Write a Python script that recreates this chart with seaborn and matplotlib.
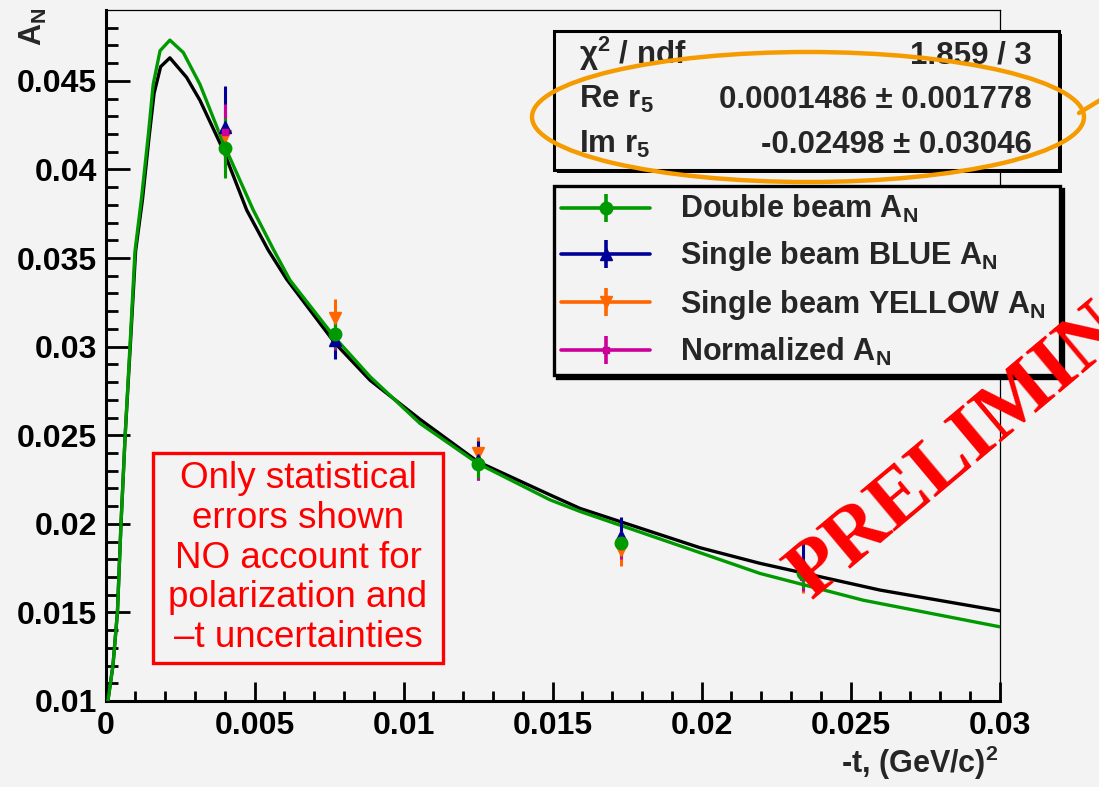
import matplotlib
matplotlib.use("Agg")
import matplotlib.pyplot as plt
import seaborn as sns
from matplotlib.lines import Line2D
from matplotlib.patches import Rectangle, Ellipse
from matplotlib.legend_handler import HandlerTuple

# ---------------- data ----------------
# fitted A_N curve (double beam fit)
fit_t = [0.00008, 0.00025, 0.00040, 0.00052, 0.00066, 0.00082, 0.00099, 0.00121,
         0.00144, 0.00160, 0.00183, 0.00216, 0.00261, 0.00317, 0.00395, 0.00496,
         0.00563, 0.00619, 0.0077, 0.00888, 0.01055, 0.0125, 0.01492, 0.01592,
         0.01995, 0.02196, 0.02542, 0.0300]
fit_an = [0.0100, 0.0120, 0.0150, 0.0200, 0.0250, 0.0300, 0.0354, 0.0384,
          0.0420, 0.0448, 0.0467, 0.0473, 0.0466, 0.0448, 0.0415, 0.0377,
          0.0355, 0.03375, 0.0305, 0.0283, 0.02567, 0.0234, 0.02135, 0.0207,
          0.01837, 0.0172, 0.01569, 0.01419]

# reference curve with r5 = 0
ref_t = [0.00008, 0.00025, 0.00040, 0.00052, 0.00066, 0.00083, 0.00101, 0.00124,
         0.00146, 0.00163, 0.00185, 0.00216, 0.00272, 0.00317, 0.00395, 0.00474,
         0.00546, 0.00608, 0.0077, 0.00888, 0.01055, 0.0125, 0.01492, 0.01592,
         0.01995, 0.02196, 0.02599, 0.0300]
ref_an = [0.0100, 0.0120, 0.0150, 0.0200, 0.0250, 0.0300, 0.0354, 0.0383,
          0.0418, 0.0443, 0.0458, 0.0463, 0.0452, 0.0439, 0.0411, 0.0377,
          0.03545, 0.0338, 0.0302, 0.0281, 0.0259, 0.0235, 0.02163, 0.02087,
          0.01865, 0.01777, 0.01626, 0.01509]

t_bins = [0.0040, 0.0077, 0.0125, 0.0173, 0.0234]

an_double = [0.0412, 0.0307, 0.0234, 0.0189, 0.0172]
err_double = [0.0017, 0.0008, 0.0008, 0.0007, 0.0008]

an_blue = [0.0424, 0.0304, 0.0236, 0.0193, 0.0177]
err_blue = [0.0023, 0.0011, 0.0011, 0.0011, 0.0012]

an_yellow = [0.0419, 0.0316, 0.0240, 0.0185, 0.0172]
err_yellow = [0.0023, 0.0011, 0.0009, 0.0009, 0.0011]

an_norm = [0.0421, 0.0306, 0.0233, 0.0188, 0.0170]
err_norm = [0.0016, 0.0008, 0.0008, 0.0008, 0.0008]

series_labels = ["Double beam A$_{N}$", "Single beam BLUE A$_{N}$",
                 "Single beam YELLOW A$_{N}$", "Normalized A$_{N}$"]

xtick_vals = [0.0, 0.005, 0.01, 0.015, 0.02, 0.025, 0.03]
xtick_labels = ["0", "0.005", "0.01", "0.015", "0.02", "0.025", "0.03"]
ytick_vals = [0.01, 0.015, 0.02, 0.025, 0.03, 0.035, 0.04, 0.045]
ytick_labels = ["0.01", "0.015", "0.02", "0.025", "0.03", "0.035", "0.04", "0.045"]

stat_names = ["\u03c7$^{2}$ / ndf", "Re r$_{5}$", "Im r$_{5}$"]
stat_values = ["1.859 / 3", "0.0001486 \u00b1 0.001778", "-0.02498 \u00b1 0.03046"]

note_text = "Only statistical\nerrors shown\nNO account for\npolarization and\n\u2013t uncertainties"
stamp_text = "PRELIMINARY"

# ---------------- style ----------------
BG = "#f3f3f3"
GREEN = "#009a00"
BLUE = "#000099"
ORANGE = "#ff6600"
MAGENTA = "#cc0099"

sns.set_theme(style="ticks")
plt.rcParams["font.family"] = ["Liberation Sans", "DejaVu Sans"]
plt.rcParams["font.weight"] = "bold"
plt.rcParams["mathtext.fontset"] = "custom"
plt.rcParams["mathtext.rm"] = "Liberation Sans:bold"
plt.rcParams["mathtext.bf"] = "Liberation Sans:bold"
plt.rcParams["mathtext.it"] = "Liberation Sans:bold"
plt.rcParams["mathtext.default"] = "bf"

W, H = 1099, 787
fig = plt.figure(figsize=(W / 100, H / 100), dpi=100, facecolor=BG)


def fx(px):
    return px / W


def fy(py):
    return 1 - py / H


ax = fig.add_axes([fx(105.5), fy(701), fx(999.6) - fx(105.5), fy(10) - fy(701)])
ax.set_facecolor(BG)

# curves
sns.lineplot(x=ref_t, y=ref_an, ax=ax, color="black", lw=2.4, sort=False,
             estimator=None, legend=False, zorder=3)
sns.lineplot(x=fit_t, y=fit_an, ax=ax, color=GREEN, lw=2.4, sort=False,
             estimator=None, legend=False, zorder=4)

# measurements
series = [
    (an_yellow, err_yellow, ORANGE, "v", 8),
    (an_blue, err_blue, BLUE, "^", 8),
    (an_norm, err_norm, MAGENTA, "s", 5),
    (an_double, err_double, GREEN, "o", 9),
]
for vals, errs, col, mk, ms in series:
    ax.errorbar(t_bins, vals, yerr=errs, fmt=mk, color=col, ms=ms,
                elinewidth=2.2, capsize=0, zorder=5)

ax.set_xlim(0, 0.03)
ax.set_ylim(0.01, 0.049)
ax.set_xticks(xtick_vals, labels=xtick_labels)
ax.set_yticks(ytick_vals, labels=ytick_labels)
ax.set_xticks([i * 0.001 for i in range(31)], minor=True)
ax.set_yticks([0.01 + i * 0.001 for i in range(39)], minor=True)
ax.tick_params(axis="both", which="both", direction="in", width=2.0,
               colors="black", labelsize=23, top=False, right=False)
ax.tick_params(axis="y", which="major", length=17, pad=6)
ax.tick_params(axis="y", which="minor", length=8.5)
ax.tick_params(axis="x", which="major", length=14, pad=7)
ax.tick_params(axis="x", which="minor", length=7)
for lab in ax.get_xticklabels() + ax.get_yticklabels():
    lab.set_fontweight("bold")

for side in ("left", "bottom"):
    ax.spines[side].set_linewidth(2.2)
    ax.spines[side].set_color("black")
for side in ("top", "right"):
    ax.spines[side].set_linewidth(0.9)
    ax.spines[side].set_color("black")
ax.set_xlabel("")
ax.set_ylabel("")

# axis titles
fig.text(fx(998), fy(773), "-t, (GeV/c)$^{2}$", ha="right", va="baseline",
         fontsize=22, fontweight="bold")
fig.text(fx(33), fy(8), "A$_{N}$", rotation=90, ha="center", va="top",
         fontsize=22, fontweight="bold")

# legend
handles = []
for _, _, col, mk, ms in [series[3], series[1], series[0], series[2]]:
    line = Line2D([], [], color=col, lw=2.6, marker=mk, ms=ms)
    bar = Line2D([], [], color=col, ls="none", marker="|", ms=20, mew=2.6)
    handles.append((line, bar))
leg = ax.legend(handles, series_labels, handler_map={tuple: HandlerTuple(ndivide=1)},
                loc="upper left", mode="expand",
                bbox_to_anchor=(fx(554), fy(377), fx(1060) - fx(554), fy(186) - fy(377)),
                bbox_transform=fig.transFigure, borderaxespad=0, fontsize=22,
                borderpad=0.24, labelspacing=0.46, handlelength=2.9,
                handletextpad=1.0, fancybox=False,
                shadow={"color": "black", "alpha": 1.0})
leg.get_frame().set_edgecolor("black")
leg.get_frame().set_linewidth(2.4)
leg.get_frame().set_facecolor(BG)
leg.get_frame().set_alpha(1)
leg.set_zorder(20)
for txt in leg.get_texts():
    txt.set_fontweight("bold")

# fit statistics box
fig.add_artist(Rectangle((fx(557), fy(173)), fx(1062) - fx(557), fy(34) - fy(173),
                         transform=fig.transFigure, facecolor="black",
                         edgecolor="black", lw=0, zorder=6))
fig.add_artist(Rectangle((fx(554), fy(170)), fx(1059) - fx(554), fy(31) - fy(170),
                         transform=fig.transFigure, facecolor=BG,
                         edgecolor="black", lw=2.2, zorder=7))
for name, val, base in zip(stat_names, stat_values, [64, 108, 153]):
    fig.text(fx(579), fy(base), name, ha="left", va="baseline", fontsize=22.5,
             fontweight="bold", zorder=8)
    fig.text(fx(1032), fy(base), val, ha="right", va="baseline", fontsize=22.5,
             fontweight="bold", zorder=8)

# highlight ring around the r5 results
fig.add_artist(Ellipse((fx(808), fy(117)), fx(552), 130 / H,
                       transform=fig.transFigure, facecolor="none",
                       edgecolor="#f59b00", lw=3.2, zorder=9))
fig.add_artist(Line2D([fx(1079), fx(1115)], [fy(113), fy(91)],
                      transform=fig.transFigure, color="#f59b00", lw=3.2, zorder=9))

# note box
fig.add_artist(Rectangle((fx(153), fy(663)), fx(443) - fx(153), fy(453) - fy(663),
                         transform=fig.transFigure, facecolor=BG,
                         edgecolor="#ff0000", lw=2.4, zorder=8))
fig.text(fx(298), fy(558), note_text, ha="center", va="center", fontsize=26.5,
         fontweight="normal", color="#ff0000", linespacing=1.17, zorder=9)

# stamp
fig.text(fx(812), fy(600), stamp_text, rotation=40, rotation_mode="anchor",
         ha="left", va="baseline", fontsize=58, fontweight="bold",
         family="Liberation Serif", color="#ff0000", zorder=30)

fig.savefig("out.png", dpi=100, facecolor=BG)
